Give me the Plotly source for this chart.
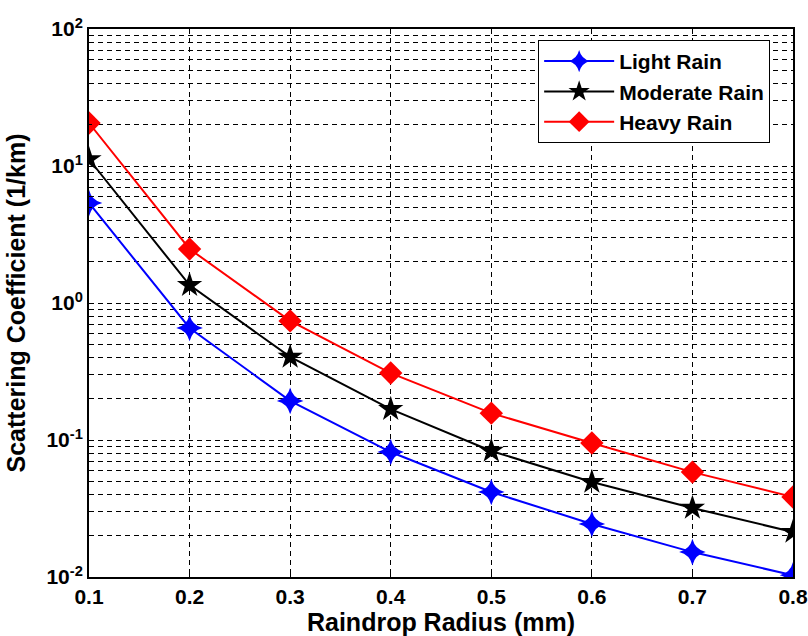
import plotly.graph_objects as go

radius = [0.1, 0.2, 0.3, 0.4, 0.5, 0.6, 0.7, 0.8]
light = [5.37, 0.657, 0.193, 0.0817, 0.0417, 0.0244, 0.0152, 0.0103]
moderate = [11.2, 1.35, 0.404, 0.168, 0.0832, 0.0493, 0.0319, 0.0213]
heavy = [20.6, 2.48, 0.740, 0.308, 0.157, 0.095, 0.0583, 0.0384]

x_ticks = [0.1, 0.2, 0.3, 0.4, 0.5, 0.6, 0.7, 0.8]
y_ticks = [0.01, 0.1, 1, 10, 100]
y_ticktext = ["10<sup>-2</sup>", "10<sup>-1</sup>", "10<sup>0</sup>", "10<sup>1</sup>", "10<sup>2</sup>"]
y_minor = [m * 10 ** e for e in range(-2, 2) for m in range(2, 10)]

fig = go.Figure()
fig.add_trace(go.Scatter(x=radius, y=light, name="Light Rain", mode="lines+markers",
                         line=dict(color="#0000ff", width=2),
                         marker=dict(symbol="star-diamond", size=19, color="#0000ff")))
fig.add_trace(go.Scatter(x=radius, y=moderate, name="Moderate Rain", mode="lines+markers",
                         line=dict(color="black", width=2),
                         marker=dict(symbol="star", size=19, color="black")))
fig.add_trace(go.Scatter(x=radius, y=heavy, name="Heavy Rain", mode="lines+markers",
                         line=dict(color="#ff0000", width=2),
                         marker=dict(symbol="diamond", size=18, color="#ff0000")))

fam = "Liberation Sans, Arial, sans-serif"
dash = "5px,4px"

fig.update_layout(
    width=808, height=636,
    margin=dict(l=89, r=15, t=29, b=59),
    paper_bgcolor="white", plot_bgcolor="white",
    font=dict(family=fam, color="black"),
    showlegend=True,
    legend=dict(x=0.638, y=0.98, xanchor="left", yanchor="top",
                bgcolor="white", bordercolor="black", borderwidth=1,
                font=dict(size=21, weight="bold", family=fam, color="black"),
                tracegroupgap=0, itemwidth=70),
    xaxis=dict(range=[0.1, 0.8], tickvals=x_ticks, ticktext=[f"{v:.1f}" for v in x_ticks],
               automargin=False,
               showline=True, linecolor="black", linewidth=2, mirror=True,
               showgrid=True, gridcolor="black", griddash=dash, gridwidth=1,
               ticks="inside", ticklen=5, tickcolor="black",
               tickfont=dict(size=21, weight="bold"),
               zeroline=False,
               title=dict(text="Raindrop Radius (mm)", font=dict(size=25, weight="bold"), standoff=4)),
    yaxis=dict(type="log", range=[-2, 2], tickvals=y_ticks, ticktext=y_ticktext,
               automargin=False,
               showline=True, linecolor="black", linewidth=2, mirror=True,
               showgrid=True, gridcolor="black", griddash=dash, gridwidth=1,
               ticks="inside", ticklen=5, tickcolor="black",
               tickfont=dict(size=21, weight="bold"),
               minor=dict(tickvals=y_minor, showgrid=True, gridcolor="black", griddash=dash,
                          gridwidth=1, ticks="inside", ticklen=3, tickcolor="black"),
               zeroline=False,
               title=dict(text="Scattering Coefficient (1/km)", font=dict(size=25, weight="bold"), standoff=14)),
)

fig.write_html("out.html", config={"displayModeBar": False},
               post_script="document.body.style.margin='0';document.body.style.overflow='hidden';")
